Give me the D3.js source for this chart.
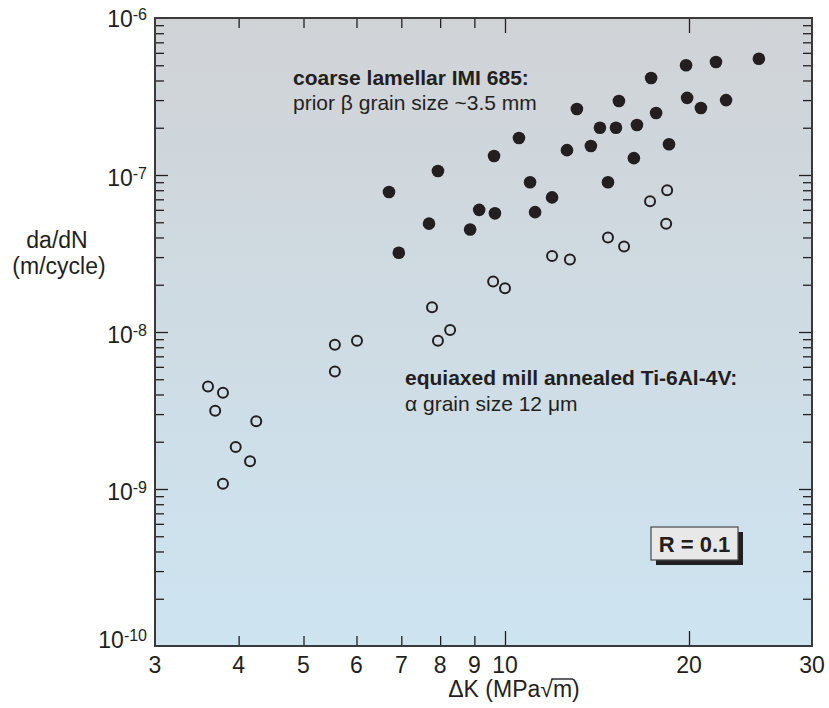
<!DOCTYPE html>
<html><head><meta charset="utf-8">
<script src="https://cdn.jsdelivr.net/npm/d3@7"></script>
<style>
body{margin:0;background:#fff}
text{font-family:"Liberation Sans",Arial,Helvetica,sans-serif;fill:#231f20}
</style>
</head><body>
<svg id="chart" width="829" height="708"></svg>
<script>
// ---- data ----
const xTickValues = [3, 4, 5, 6, 7, 8, 9, 10, 20, 30];
const xTickLabels = ["3", "4", "5", "6", "7", "8", "9", "10", "20", "30"];
const yDecadeExponents = [-10, -9, -8, -7, -6];

// coarse lamellar IMI 685 (filled)
const coarseK = [6.71, 6.94, 7.94, 7.70, 8.87, 9.15, 9.66, 9.63, 10.99, 11.20, 11.94, 12.63, 13.82, 14.74, 16.25, 18.55,
  10.54, 13.11, 15.36, 17.34, 19.78, 21.86, 25.18, 19.86, 20.80, 22.60, 17.67, 14.30, 15.19, 16.44];
const coarseRate = [7.8e-8, 3.2e-8, 1.06e-7, 4.9e-8, 4.5e-8, 6.0e-8, 5.7e-8, 1.32e-7, 9.0e-8, 5.8e-8, 7.2e-8, 1.44e-7, 1.53e-7, 9.0e-8, 1.28e-7, 1.57e-7,
  1.72e-7, 2.63e-7, 2.96e-7, 4.15e-7, 5.0e-7, 5.25e-7, 5.5e-7, 3.1e-7, 2.67e-7, 3.0e-7, 2.48e-7, 2.0e-7, 2.0e-7, 2.08e-7];

// equiaxed mill annealed Ti-6Al-4V (open)
const equiK = [3.60, 3.79, 3.69, 4.25, 3.96, 4.16, 3.79, 5.57, 6.01, 5.57, 7.94, 8.28, 7.78, 9.60, 10.0,
  11.94, 12.77, 14.74, 15.66, 17.27, 18.42, 18.35];
const equiRate = [4.5e-9, 4.1e-9, 3.15e-9, 2.7e-9, 1.85e-9, 1.5e-9, 1.08e-9, 8.3e-9, 8.8e-9, 5.6e-9, 8.8e-9, 1.03e-8, 1.44e-8, 2.1e-8, 1.9e-8,
  3.05e-8, 2.9e-8, 4.0e-8, 3.5e-8, 6.8e-8, 8.0e-8, 4.9e-8];

const coarseTitle = "coarse lamellar IMI 685:";
const coarseSub = "prior \u03B2 grain size ~3.5 mm";
const equiTitle = "equiaxed mill annealed Ti-6Al-4V:";
const equiSub = "\u03B1 grain size 12 \u03BCm";
const ratioLabel = "R = 0.1";

// ---- chart ----
const svg = d3.select("#chart");
const L = 155, R = 812, T = 18, B = 646;
const ink = "#231f20";

const x = d3.scaleLog().domain([3, 10, 20, 30]).range([L, 505, 689, R]);
const y = d3.scaleLog().domain([1e-10, 1e-6]).range([B, T]);

const defs = svg.append("defs");
const grad = defs.append("linearGradient").attr("id", "bg").attr("x1", 0).attr("y1", 0).attr("x2", 0).attr("y2", 1);
grad.append("stop").attr("offset", "0%").attr("stop-color", "#d0d3d6");
grad.append("stop").attr("offset", "100%").attr("stop-color", "#cde4f1");

svg.append("rect").attr("x", L).attr("y", T).attr("width", R - L).attr("height", B - T).attr("fill", "url(#bg)");

// ticks
const xMinor = [4, 5, 6, 7, 8, 9];
const xMajor = [10, 20];
const yMinor = [];
const yMajor = [1e-9, 1e-8, 1e-7];
for (let e = -10; e < -6; e++) for (let m = 2; m <= 9; m++) yMinor.push(m * Math.pow(10, e));

function tickAxis(axisFn, scale, vals, size, tr) {
  const g = svg.append("g").attr("transform", tr)
    .call(axisFn(scale).tickValues(vals).tickSizeInner(-size).tickSizeOuter(0).tickFormat(""));
  g.select(".domain").remove();
  g.selectAll(".tick line").attr("stroke", ink).attr("stroke-width", 1.3);
  return g;
}
tickAxis(d3.axisBottom, x, xMinor, 10, `translate(0,${B})`);
tickAxis(d3.axisBottom, x, xMajor, 15, `translate(0,${B})`);
tickAxis(d3.axisTop, x, xMinor, 10, `translate(0,${T})`);
tickAxis(d3.axisTop, x, xMajor, 15, `translate(0,${T})`);
tickAxis(d3.axisLeft, y, yMinor, 9, `translate(${L},0)`);
tickAxis(d3.axisLeft, y, yMajor, 13, `translate(${L},0)`);
tickAxis(d3.axisRight, y, yMinor, 9, `translate(${R},0)`);
tickAxis(d3.axisRight, y, yMajor, 13, `translate(${R},0)`);

// frame
svg.append("rect").attr("x", L).attr("y", T).attr("width", R - L).attr("height", B - T)
  .attr("fill", "none").attr("stroke", "#3a3a3c").attr("stroke-width", 2);

// x tick labels
svg.append("g").selectAll("text").data(xTickValues).join("text")
  .attr("x", d => x(d)).attr("y", 673).attr("text-anchor", "middle")
  .attr("font-size", 23).text((d, i) => xTickLabels[i]);

// y tick labels
const yl = svg.append("g").selectAll("text").data(yDecadeExponents).join("text")
  .attr("x", 147).attr("y", d => y(Math.pow(10, d)) + (d === -10 ? 2 : (d === -6 ? 9 : 11)))
  .attr("text-anchor", "end").attr("font-size", 23);
yl.append("tspan").text("10");
yl.append("tspan").attr("dy", -7.5).attr("font-size", 16).text(d => "-" + Math.abs(d));

// axis titles
svg.append("text").attr("x", 57).attr("y", 248).attr("text-anchor", "middle").attr("font-size", 23).text("da/dN");
svg.append("text").attr("x", 59).attr("y", 274).attr("text-anchor", "middle").attr("font-size", 23).text("(m/cycle)");

const xt = svg.append("text").attr("x", 514).attr("y", 697).attr("text-anchor", "middle").attr("font-size", 23);
xt.append("tspan").text("\u0394K (MPa");
xt.append("tspan").text("\u221A");
xt.append("tspan").text("m");
xt.append("tspan").text(")");
{
  const n1 = xt.node();
  const full = n1.getComputedTextLength();
  const startX = 514 - full / 2;
  const pre = n1.getSubStringLength(0, 7);
  const sLen = n1.getSubStringLength(7, 1);
  const x0 = startX + pre + sLen - 1.5;
  const x1 = startX + pre + sLen + n1.getSubStringLength(8, 1) + 1;
  svg.append("line").attr("x1", x0).attr("x2", x1).attr("y1", 679).attr("y2", 679)
    .attr("stroke", ink).attr("stroke-width", 1.4);
}

// points
svg.append("g").selectAll("circle").data(coarseK).join("circle")
  .attr("cx", d => x(d)).attr("cy", (d, i) => y(coarseRate[i])).attr("r", 6.3).attr("fill", ink);
svg.append("g").selectAll("circle").data(equiK).join("circle")
  .attr("cx", d => x(d)).attr("cy", (d, i) => y(equiRate[i])).attr("r", 5).attr("fill", "none")
  .attr("stroke", ink).attr("stroke-width", 2);

// annotations
svg.append("text").attr("x", 293).attr("y", 85).attr("font-size", 21).attr("font-weight", "bold").text(coarseTitle);
svg.append("text").attr("x", 293).attr("y", 110).attr("font-size", 21).text(coarseSub);
svg.append("text").attr("x", 405).attr("y", 385).attr("font-size", 21).attr("font-weight", "bold").text(equiTitle);
svg.append("text").attr("x", 405).attr("y", 411).attr("font-size", 21).text(equiSub);

// R box
svg.append("rect").attr("x", 656).attr("y", 532).attr("width", 87).attr("height", 33).attr("fill", ink);
svg.append("rect").attr("x", 651).attr("y", 527).attr("width", 87).attr("height", 33)
  .attr("fill", "#e8e8e9").attr("stroke", "#4a4a4c").attr("stroke-width", 1.2);
svg.append("text").attr("x", 694.5).attr("y", 551.5).attr("text-anchor", "middle").attr("font-size", 22)
  .attr("font-weight", "bold").text(ratioLabel);
</script>
</body></html>
